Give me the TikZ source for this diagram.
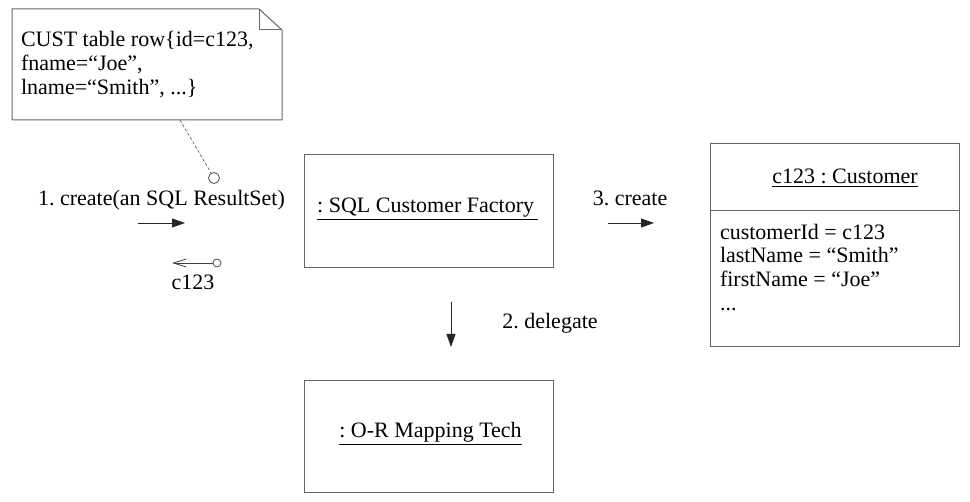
\documentclass[tikz,border=0pt]{standalone}
\usepackage{fontspec}
\setmainfont{Liberation Serif}
\usetikzlibrary{arrows.meta}
\frenchspacing
\begin{document}
\begin{tikzpicture}[x=1pt,y=-1pt,
  every node/.style={inner sep=0pt, outer sep=0pt},
  txt/.style={font=\fontsize{22}{23.7}\selectfont},
  objbox/.style={draw=black!60, line width=1pt},
  notebox/.style={draw=black!60, line width=1pt},
  msg/.style={-{Triangle[length=13pt,width=9pt]}, line width=0.9pt, black!85},
  retmsg/.style={-{Straight Barb[length=13pt,width=8pt]}, line width=0.8pt, black!75},
  pin/.style={circle, draw=black!70, line width=0.8pt, fill=white},
  anchorline/.style={draw=black!60, line width=0.7pt, dash pattern=on 3pt off 2pt}
]
\useasboundingbox (0,0) rectangle (970,502);

% note
\node (note) at (147,64.5) [minimum width=270pt, minimum height=111pt] {};
\draw[notebox] (note.south west) -- (note.north west) -- ([xshift=-23pt]note.north east)
  -- ([yshift=-21pt]note.north east) -- (note.south east) -- cycle;
\draw[notebox] ([xshift=-23pt]note.north east) -- ([xshift=-23pt,yshift=-21pt]note.north east)
  -- ([yshift=-21pt]note.north east);
\node[txt, anchor=north west, align=left] (notetxt) at (21,31.5)
  {CUST table row\{id=c123,\\fname=“Joe”,\\lname=“Smith”, ...\}};
\coordinate (na) at (180,120);
\node[pin, minimum size=11pt] (nc) at (214,178) {};
\draw[anchorline] (na) -- (nc);

% message 1
\node[txt, anchor=base] (m1lbl) at (161.5,206) {1. create(an SQL ResultSet)};
\coordinate (m1s) at (138,223);
\coordinate (m1e) at (185,223);
\draw[msg] (m1s) -- (m1e);

% return
\node[pin, minimum size=8pt] (rc) at (217,263) {};
\coordinate (r1e) at (172,263);
\draw[retmsg] (rc) -- (r1e);
\node[txt, anchor=base] (retlbl) at (193,290) {c123};

% factory
\node[objbox, minimum width=249pt, minimum height=113pt] (fac) at (428.5,211.5) {};
\node[txt, anchor=base] (factxt) at (427.5,213) {\underline{: SQL Customer Factory\,}};

% message 2
\coordinate (m2s) at (451,302);
\coordinate (m2e) at (451,347);
\draw[msg] (m2s) -- (m2e);
\node[txt, anchor=base] (m2lbl) at (550,329) {2. delegate};

% OR mapping
\node[objbox, minimum width=249pt, minimum height=112pt] (orm) at (428.5,437) {};
\node[txt, anchor=base] (ormtxt) at (430.5,438) {\underline{: O-R Mapping Tech}};

% message 3
\node[txt, anchor=base] (m3lbl) at (630,206) {3. create};
\coordinate (m3s) at (608,223);
\coordinate (m3e) at (654,223);
\draw[msg] (m3s) -- (m3e);

% customer
\node[objbox, minimum width=249pt, minimum height=203pt] (cust) at (834.5,245.5) {};
\draw[objbox] ([yshift=-67pt]cust.north west) -- ([yshift=-67pt]cust.north east);
\node[txt, anchor=base] (custtitle) at (845,184) {\underline{c123 : Customer}};
\node[txt, anchor=north west, align=left] (custattr) at (720,224)
  {customerId = c123\\lastName = “Smith”\\firstName = “Joe”\\...};
\end{tikzpicture}
\end{document}
